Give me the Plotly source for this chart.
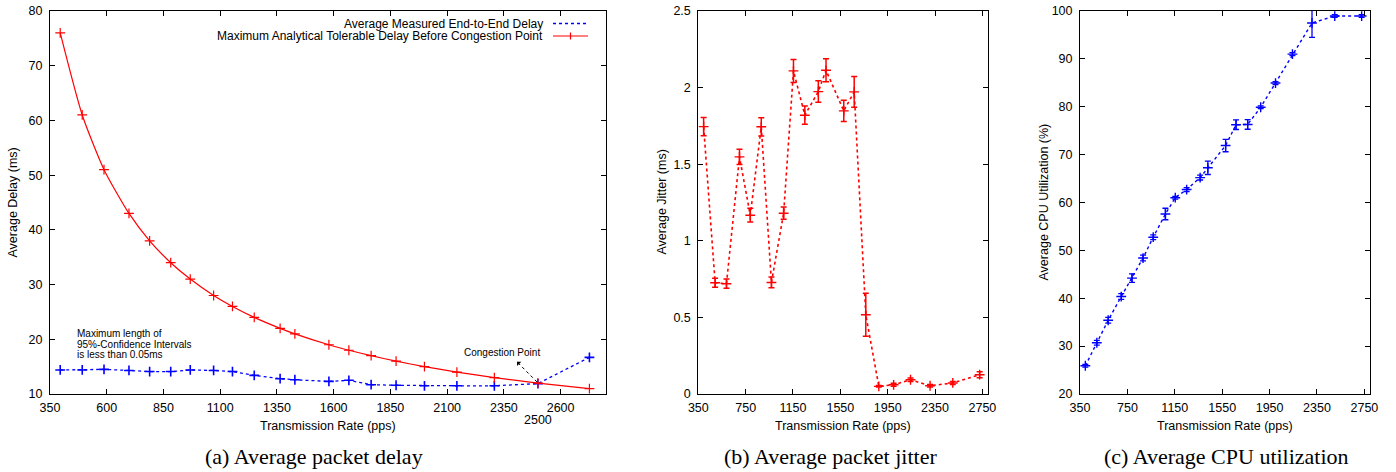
import plotly.graph_objects as go

W, H = 1396, 472

# ---------------- data ----------------
rates = [395, 492, 588, 698, 789, 882, 968, 1071, 1154, 1250, 1364, 1429,
         1579, 1667, 1765, 1875, 2000, 2143, 2308, 2500, 2727]

delay_analytical = [76, 61, 51, 43, 38, 34, 31, 28, 26, 24, 22, 21,
                    19, 18, 17, 16, 15, 14, 13, 12, 11]
delay_measured = [14.4, 14.4, 14.5, 14.3, 14.1, 14.1, 14.4, 14.3, 14.1, 13.4, 12.8, 12.6,
                  12.3, 12.5, 11.7, 11.6, 11.5, 11.5, 11.5, 11.9, 16.7]

jitter = [1.745, 0.726, 0.72, 1.548, 1.167, 1.744, 0.728, 1.18, 2.109, 1.82, 1.974, 2.113,
          1.848, 1.972, 0.517, 0.05, 0.06, 0.093, 0.054, 0.072, 0.126]
jitter_err = [0.06, 0.03, 0.03, 0.05, 0.045, 0.06, 0.035, 0.04, 0.075, 0.06, 0.07, 0.075,
              0.07, 0.1, 0.14, 0.005, 0.01, 0.012, 0.008, 0.01, 0.02]

cpu = [25.9, 30.7, 35.4, 40.35, 44.2, 48.4, 52.75, 57.6, 61.0, 62.7, 65.2, 67.25,
       71.9, 76.25, 76.3, 79.9, 84.95, 91.0, 97.5, 98.95, 98.95]
cpu_err = [0.3, 0.5, 0.6, 0.6, 0.9, 0.6, 0.5, 1.2, 0.3, 0.4, 0.5, 1.4,
           1.3, 1.0, 1.0, 0.3, 0.3, 0.3, 3.0, 0.3, 0.3]

xticks_a = [350, 600, 850, 1100, 1350, 1600, 1850, 2100, 2350, 2600]
xticks_bc = [350, 750, 1150, 1550, 1950, 2350, 2750]
yticks_a = [10, 20, 30, 40, 50, 60, 70, 80]
yticks_b = [0, 0.5, 1, 1.5, 2, 2.5]
yticks_b_text = ["0", "0.5", "1", "1.5", "2", "2.5"]
yticks_c = [20, 30, 40, 50, 60, 70, 80, 90, 100]

legend_labels = ["Average Measured End-to-End Delay",
                 "Maximum Analytical Tolerable Delay Before Congestion Point"]
note_lines = ["Maximum length of", "95%-Confidence Intervals", "is less than 0.05ms"]
captions = ["(a) Average packet delay", "(b) Average packet jitter", "(c) Average CPU utilization"]
x_title = "Transmission Rate (pps)"
y_titles = ["Average Delay (ms)", "Average Jitter (ms)", "Average CPU Utilization (%)"]

# ---------------- helpers ----------------
def px(x):
    return x / W

def py(y):
    return 1 - y / H

SANS = "Liberation Sans, Arial, Helvetica, sans-serif"
SERIF = "Liberation Serif, Times New Roman, serif"
TICKF = dict(family=SANS, size=12.5, color="black")

RED = "#ff0000"
BLUE = "#0000ff"

fig = go.Figure()

# panel (a)
fig.add_trace(go.Scatter(
    x=rates, y=delay_measured, mode="lines+markers", xaxis="x", yaxis="y",
    line=dict(color=BLUE, width=1.3, dash="dot"),
    marker=dict(symbol="cross-thin", size=7, line=dict(color=BLUE, width=1.6)),
    showlegend=False))
fig.add_trace(go.Scatter(
    x=rates, y=delay_analytical, mode="lines+markers", xaxis="x", yaxis="y",
    line=dict(color=RED, width=1.2, shape="spline", smoothing=0.6),
    marker=dict(symbol="cross-thin", size=7, line=dict(color=RED, width=1.2)),
    showlegend=False))

# panel (b)
fig.add_trace(go.Scatter(
    x=rates, y=jitter, mode="lines+markers", xaxis="x2", yaxis="y2",
    line=dict(color=RED, width=1.6, dash="dot"),
    marker=dict(symbol="cross-thin", size=7, line=dict(color=RED, width=1.4)),
    error_y=dict(type="data", array=jitter_err, color=RED, thickness=1.5, width=3),
    showlegend=False))

# panel (c)
fig.add_trace(go.Scatter(
    x=rates, y=cpu, mode="lines+markers", xaxis="x3", yaxis="y3",
    line=dict(color=BLUE, width=1.4, dash="dot"),
    marker=dict(symbol="cross-thin", size=7, line=dict(color=BLUE, width=1.4)),
    error_y=dict(type="data", array=cpu_err, color=BLUE, thickness=1.3, width=3),
    showlegend=False))

ytop, ybot = 11, 394
ydom = [py(ybot), py(ytop)]
dom_a = [px(50), px(606)]
dom_b = [px(698.3), px(988.3)]
dom_c = [px(1080), px(1370.3)]

def xax(dom, tickvals, anchor):
    return dict(domain=dom, range=[350, 2800], tickvals=tickvals, ticks="inside",
                ticklen=5, tickcolor="black", showline=True, linecolor="black",
                linewidth=1, mirror="ticks", showgrid=False, zeroline=False,
                tickfont=TICKF, anchor=anchor, ticklabelstandoff=2, automargin=False)

def yax(dom, rng, tickvals, anchor, ticktext=None):
    d = dict(domain=dom, range=rng, tickvals=tickvals, ticks="inside",
             ticklen=5, tickcolor="black", showline=True, linecolor="black",
             linewidth=1, mirror="ticks", showgrid=False, zeroline=False,
             tickfont=TICKF, anchor=anchor, ticklabelstandoff=4, automargin=False)
    if ticktext is not None:
        d["ticktext"] = ticktext
    return d

fig.update_layout(
    template="none",
    width=W, height=H, margin=dict(l=0, r=0, t=0, b=0, autoexpand=False),
    paper_bgcolor="white", plot_bgcolor="white",
    font=dict(family=SANS, color="black"),
    xaxis=xax(dom_a, xticks_a, "y"),
    yaxis=yax(ydom, [10, 80], yticks_a, "x"),
    xaxis2=xax(dom_b, xticks_bc, "y2"),
    yaxis2=yax(ydom, [0, 2.5], yticks_b, "x2", yticks_b_text),
    xaxis3=xax(dom_c, xticks_bc, "y3"),
    yaxis3=yax(ydom, [20, 100], yticks_c, "x3"),
)

ann = []
shapes = []

# extra 2500 label under panel (a)
ann.append(dict(x=2500, xref="x", y=py(420), yref="paper", text="2500", showarrow=False,
                xanchor="center", yanchor="middle", font=TICKF))

# x titles
for cx in [(50 + 606) / 2, (698.3 + 988.3) / 2, (1080 + 1370.3) / 2]:
    ann.append(dict(x=px(cx), xref="paper", y=py(426), yref="paper", text=x_title,
                    showarrow=False, xanchor="center", yanchor="middle",
                    font=dict(family=SANS, size=12.5, color="black")))
# y titles
for (tx, t) in zip([12, 661, 1043], y_titles):
    ann.append(dict(x=px(tx), xref="paper", y=py((ytop + ybot) / 2), yref="paper", text=t,
                    textangle=-90, showarrow=False, xanchor="center", yanchor="middle",
                    font=dict(family=SANS, size=12.5, color="black")))
# captions
for (cx, t) in zip([314, 830, 1226], captions):
    ann.append(dict(x=px(cx), xref="paper", y=py(456), yref="paper", text=t,
                    showarrow=False, xanchor="center", yanchor="middle",
                    font=dict(family=SERIF, size=22, color="black")))

# legend (gnuplot style: text left, sample right)
leg_y = [23.5, 36]
for (ly, t) in zip(leg_y, legend_labels):
    ann.append(dict(x=px(545), xref="paper", y=py(ly), yref="paper", text=t,
                    showarrow=False, xanchor="right", yanchor="middle",
                    font=dict(family=SANS, size=12, color="black")))
shapes.append(dict(type="line", xref="paper", yref="paper", x0=px(553), x1=px(588),
                   y0=py(leg_y[0]), y1=py(leg_y[0]), line=dict(color=BLUE, width=1.3, dash="dot")))
shapes.append(dict(type="line", xref="paper", yref="paper", x0=px(553), x1=px(588),
                   y0=py(leg_y[1]), y1=py(leg_y[1]), line=dict(color=RED, width=1.2)))
shapes.append(dict(type="line", xref="paper", yref="paper", x0=px(570.5), x1=px(570.5),
                   y0=py(leg_y[1] - 3.5), y1=py(leg_y[1] + 3.5), line=dict(color=RED, width=1.2)))

# confidence note
for (ly, t) in zip([333.7, 344, 354.3], note_lines):
    ann.append(dict(x=px(75), xref="paper", y=py(ly), yref="paper", text=t,
                    showarrow=False, xanchor="left", yanchor="middle",
                    font=dict(family=SANS, size=10, color="black")))

# congestion point label and dashed arrow
ann.append(dict(x=px(502), xref="paper", y=py(352), yref="paper", text="Congestion Point",
                showarrow=False, xanchor="center", yanchor="middle",
                font=dict(family=SANS, size=10, color="black")))
shapes.append(dict(type="line", xref="x", yref="y", x0=2496, y0=12.2, x1=2412, y1=15.7,
                   line=dict(color="black", width=1, dash="dot")))
ann.append(dict(x=2408, y=15.9, xref="x", yref="y", ax=2425, ay=15.2, axref="x", ayref="y",
                text="", showarrow=True, arrowhead=1, arrowsize=1, arrowwidth=1,
                arrowcolor="black"))

fig.update_layout(annotations=ann, shapes=shapes)

fig.write_html(
    "out.html",
    config={"displayModeBar": False},
    post_script="document.body.style.margin='0px';document.body.style.padding='0px';"
                "document.body.style.overflow='hidden';",
)
